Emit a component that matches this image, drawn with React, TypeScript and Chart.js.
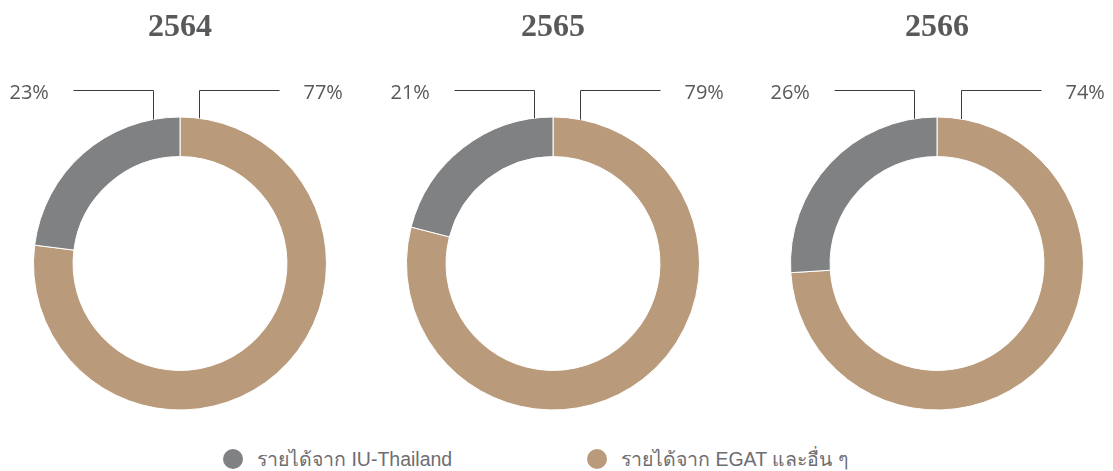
import React, { useEffect, useRef } from "react";
import { Chart, registerables } from "chart.js";

Chart.register(...registerables);

// ---- data ----
const years = ["2564", "2565", "2566"];
const seriesNames = ["รายได้จาก IU-Thailand", "รายได้จาก EGAT และอื่น ๆ"];
const iuShare = [23, 21, 26];
const egatShare = [77, 79, 74];

// ---- styling / layout ----
const GRAY = "#808183";
const TAN = "#B99B7C";
const TEXT = "#58595B";
const CANVAS_W = 360;
const CANVAS_H = 430;
const chartLefts = [0, 373, 757];
// x offsets (from donut centre) of the leader lines' vertical parts
const leaderOffsets = [
  [-27.5, 19],
  [-19.5, 27],
  [-23, 23.5],
];

const leaderPlugin = {
  id: "leaders",
  afterDraw(chart: any, _args: any, opts: any) {
    const arc = chart.getDatasetMeta(0).data[0];
    if (!arc) return;
    const { x, y, outerRadius } = arc.getProps(["x", "y", "outerRadius"], true);
    const ctx = chart.ctx;
    const lineY = 90.5;
    const len = 80;
    ctx.save();
    ctx.strokeStyle = "#3c3c3c";
    ctx.lineWidth = 1;
    const [lo, ro] = opts.offsets;
    // left
    const lx = Math.round(x + lo) + 0.5;
    const ly = y - Math.sqrt(outerRadius * outerRadius - (lx - x) * (lx - x));
    ctx.beginPath();
    ctx.moveTo(lx, ly);
    ctx.lineTo(lx, lineY);
    ctx.lineTo(lx - len, lineY);
    ctx.stroke();
    // right
    const rx = Math.round(x + ro) + 0.5;
    const ry = y - Math.sqrt(outerRadius * outerRadius - (rx - x) * (rx - x));
    ctx.beginPath();
    ctx.moveTo(rx, ry);
    ctx.lineTo(rx, lineY);
    ctx.lineTo(rx + len, lineY);
    ctx.stroke();
    // labels
    ctx.fillStyle = TEXT;
    ctx.font = '20px "Open Sans"';
    ctx.textBaseline = "alphabetic";
    ctx.textAlign = "left";
    ctx.fillText(opts.leftText, lx - len - 64, 99);
    ctx.fillText(opts.rightText, rx + len + 24, 99);
    ctx.restore();
  },
};

function Donut({ idx }: { idx: number }) {
  const ref = useRef<HTMLCanvasElement>(null);
  useEffect(() => {
    if (!ref.current) return;
    const chart = new Chart(ref.current, {
      type: "doughnut",
      data: {
        labels: [seriesNames[1], seriesNames[0]],
        datasets: [
          {
            data: [egatShare[idx], iuShare[idx]],
            backgroundColor: [TAN, GRAY],
            borderColor: "#ffffff",
            borderWidth: 1,
            hoverOffset: 0,
          },
        ],
      },
      options: {
        responsive: false,
        animation: false,
        cutout: "73%",
        layout: { padding: { left: 33, right: 33, top: 0, bottom: 19 } },
        plugins: {
          legend: { display: false },
          tooltip: { enabled: false },
          title: {
            display: true,
            text: years[idx],
            color: TEXT,
            font: { family: '"Liberation Serif", serif', size: 32, weight: "bold" },
            padding: { top: 9, bottom: 68.6 },
          },
          leaders: {
            offsets: leaderOffsets[idx],
            leftText: iuShare[idx] + "%",
            rightText: egatShare[idx] + "%",
          },
        } as any,
      },
      plugins: [leaderPlugin],
    });
    return () => chart.destroy();
  }, [idx]);
  return (
    <canvas
      ref={ref}
      width={CANVAS_W}
      height={CANVAS_H}
      style={{ position: "absolute", left: chartLefts[idx], top: 0, width: CANVAS_W, height: CANVAS_H }}
    />
  );
}

const legendItems = [
  { name: seriesNames[0], color: GRAY, left: 223 },
  { name: seriesNames[1], color: TAN, left: 587 },
];

export default function App() {
  return (
    <div
      style={{
        position: "absolute",
        left: 0,
        top: 0,
        width: 1113,
        height: 471,
        overflow: "hidden",
        background: "#fff",
      }}
    >
      {years.map((_, i) => (
        <Donut key={i} idx={i} />
      ))}
      {legendItems.map((it) => (
        <div
          key={it.name}
          style={{
            position: "absolute",
            left: it.left,
            top: 447,
            height: 24,
            display: "flex",
            alignItems: "center",
            fontFamily: '"Liberation Sans", "Noto Sans", sans-serif',
            fontSize: 19.5,
            color: "#6D6E71",
            whiteSpace: "nowrap",
          }}
        >
          <span
            style={{
              display: "inline-block",
              width: 20,
              height: 20,
              borderRadius: "50%",
              background: it.color,
              marginRight: 14,
            }}
          />
          {it.name}
        </div>
      ))}
    </div>
  );
}
